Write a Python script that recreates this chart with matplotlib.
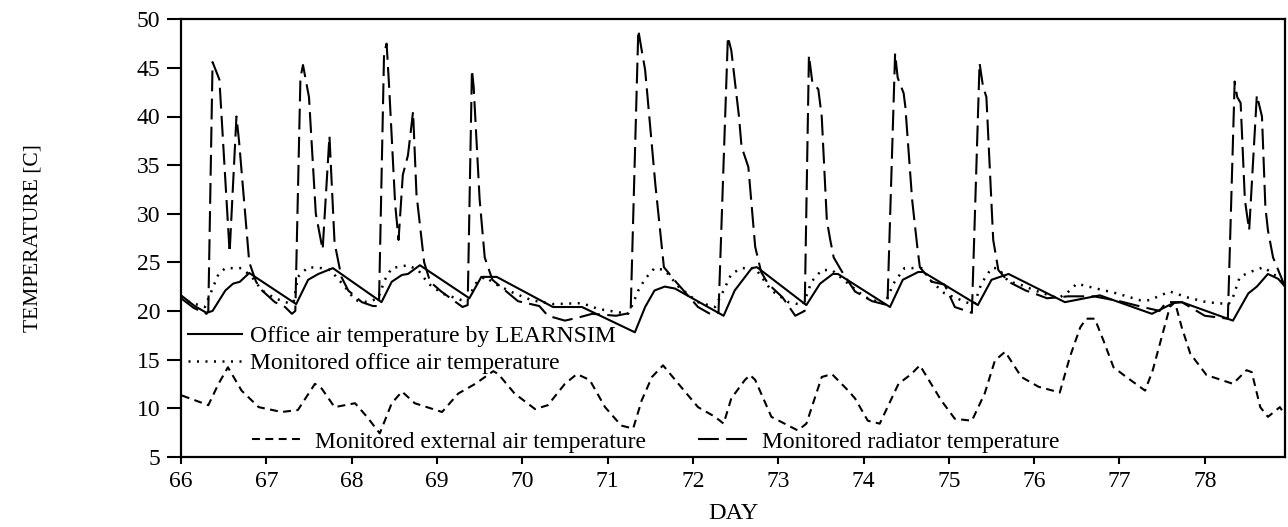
import matplotlib
matplotlib.use("Agg")
import matplotlib.pyplot as plt

plt.rcParams['font.family'] = ['Liberation Serif', 'DejaVu Serif']

# office air temperature simulated by LEARNSIM
sim_day = [66.00, 66.16, 66.30, 66.37, 66.52, 66.61, 66.69, 66.80, 67.35, 67.49,
           67.61, 67.78, 68.35, 68.47, 68.59, 68.66, 68.80, 69.38, 69.52, 69.70,
           70.36, 70.70, 71.32, 71.44, 71.55, 71.67, 71.79, 72.36, 72.49, 72.69,
           72.75, 73.33, 73.49, 73.64, 73.70, 74.31, 74.46, 74.64, 74.70, 75.34,
           75.50, 75.70, 76.36, 76.77, 77.38, 77.63, 77.73, 78.33, 78.51, 78.61,
           78.74, 78.86, 78.94]
sim_temp = [21.6, 20.5, 19.8, 20.0, 22.1, 22.8, 23.0, 23.9, 20.7, 23.2,
            23.8, 24.4, 20.9, 23.0, 23.7, 23.8, 24.7, 21.3, 23.5, 23.5,
            20.4, 20.4, 17.8, 20.4, 22.1, 22.5, 22.3, 19.5, 22.1, 24.4,
            24.5, 20.6, 22.8, 23.8, 23.8, 20.4, 23.2, 24.0, 24.0, 20.6,
            23.2, 23.8, 20.9, 21.6, 19.7, 20.8, 20.9, 19.0, 21.8, 22.5,
            23.8, 23.3, 22.5]

# monitored office air temperature
mon_day = [66.00, 66.10, 66.28, 66.36, 66.44, 66.52, 66.71, 66.83, 66.95, 67.10,
           67.26, 67.32, 67.37, 67.49, 67.65, 67.75, 67.92, 68.04, 68.19, 68.31,
           68.39, 68.47, 68.66, 68.78, 68.90, 69.06, 69.29, 69.37, 69.45, 69.56,
           69.72, 69.91, 70.11, 70.36, 70.70, 70.89, 71.24, 71.30, 71.36, 71.44,
           71.55, 71.67, 71.83, 72.06, 72.26, 72.36, 72.45, 72.57, 72.73, 72.92,
           73.12, 73.29, 73.39, 73.51, 73.63, 73.82, 74.02, 74.25, 74.35, 74.48,
           74.68, 74.80, 74.95, 75.23, 75.30, 75.38, 75.50, 75.58, 75.70, 75.81,
           76.01, 76.28, 76.38, 76.50, 76.73, 76.97, 77.24, 77.35, 77.59, 77.79,
           78.02, 78.28, 78.33, 78.41, 78.53, 78.69, 78.85, 78.94]
mon_temp = [21.5, 20.9, 20.4, 22.1, 23.8, 24.4, 24.4, 23.5, 22.1, 21.3,
            20.8, 20.9, 23.5, 24.5, 24.4, 24.2, 22.5, 21.1, 20.9, 21.3,
            23.2, 24.4, 24.7, 24.2, 22.8, 21.8, 21.1, 21.3, 22.8, 23.5,
            22.6, 21.8, 21.1, 20.7, 20.8, 20.2, 19.7, 20.8, 22.1, 23.3,
            24.4, 24.2, 22.5, 20.9, 20.4, 22.1, 23.8, 24.4, 24.4, 22.1,
            20.9, 20.6, 23.0, 24.2, 24.2, 22.8, 21.4, 20.7, 22.8, 24.4,
            24.4, 23.0, 21.8, 20.8, 20.7, 22.8, 24.4, 24.4, 23.0, 22.8,
            22.1, 21.3, 21.8, 22.8, 22.3, 21.8, 21.1, 21.1, 22.0, 21.4,
            20.9, 20.7, 21.4, 23.5, 24.0, 24.5, 23.5, 22.8]

# monitored external air temperature
ext_day = [66.01, 66.32, 66.44, 66.55, 66.71, 66.91, 67.18, 67.37, 67.57, 67.65,
           67.80, 68.04, 68.18, 68.33, 68.47, 68.59, 68.74, 69.06, 69.25, 69.45,
           69.66, 69.72, 69.91, 70.15, 70.30, 70.50, 70.64, 70.79, 70.97, 71.16,
           71.30, 71.40, 71.52, 71.65, 71.83, 72.06, 72.26, 72.36, 72.45, 72.61,
           72.67, 72.73, 72.92, 73.23, 73.33, 73.51, 73.63, 73.82, 73.90, 74.05,
           74.19, 74.41, 74.56, 74.66, 74.91, 75.07, 75.27, 75.42, 75.54, 75.66,
           75.85, 76.05, 76.30, 76.42, 76.54, 76.61, 76.71, 76.81, 76.93, 77.08,
           77.30, 77.39, 77.51, 77.59, 77.65, 77.73, 77.83, 78.02, 78.33, 78.49,
           78.55, 78.65, 78.74, 78.88, 78.94]
ext_temp = [11.3, 10.3, 12.5, 14.2, 11.8, 10.1, 9.6, 9.8, 12.5, 12.0,
            10.1, 10.5, 9.1, 7.4, 10.5, 11.7, 10.5, 9.6, 11.5, 12.5,
            13.8, 13.5, 11.5, 9.9, 10.3, 12.5, 13.5, 12.9, 10.1, 8.2,
            7.9, 10.8, 13.2, 14.4, 12.5, 10.1, 9.1, 8.4, 11.0, 12.9,
            13.4, 12.9, 9.1, 7.7, 8.4, 13.2, 13.5, 11.8, 11.0, 8.7,
            8.4, 12.5, 13.5, 14.4, 10.8, 8.9, 8.7, 11.5, 14.9, 15.8,
            13.2, 12.2, 11.6, 15.3, 18.3, 19.2, 19.2, 17.0, 14.2, 13.2,
            11.8, 13.9, 17.8, 20.4, 20.9, 18.3, 15.6, 13.4, 12.5, 13.9,
            13.7, 10.1, 9.1, 10.1, 9.3]

# monitored radiator temperature
rad_day = [66.00, 66.15, 66.30, 66.32, 66.37, 66.45, 66.57, 66.65, 66.68, 66.80,
           66.88, 66.95, 67.10, 67.22, 67.30, 67.34, 67.40, 67.43, 67.50, 67.58,
           67.66, 67.74, 67.80, 67.88, 67.96, 68.12, 68.25, 68.32, 68.38, 68.41,
           68.44, 68.51, 68.55, 68.60, 68.66, 68.72, 68.76, 68.85, 68.92, 69.05,
           69.30, 69.36, 69.41, 69.43, 69.50, 69.56, 69.65, 69.80, 69.95, 70.20,
           70.30, 70.50, 70.65, 70.82, 71.10, 71.27, 71.36, 71.40, 71.44, 71.56,
           71.66, 71.80, 72.06, 72.20, 72.30, 72.41, 72.45, 72.54, 72.57, 72.65,
           72.73, 72.80, 72.88, 73.05, 73.20, 73.31, 73.36, 73.40, 73.47, 73.51,
           73.57, 73.61, 73.65, 73.75, 73.90, 74.10, 74.28, 74.37, 74.40, 74.47,
           74.49, 74.57, 74.63, 74.66, 74.80, 74.95, 75.07, 75.27, 75.36, 75.40,
           75.44, 75.52, 75.58, 75.70, 75.90, 76.00, 76.15, 76.40, 76.70, 77.00,
           77.27, 77.47, 77.55, 77.73, 78.00, 78.27, 78.35, 78.38, 78.42, 78.47,
           78.52, 78.61, 78.67, 78.71, 78.74, 78.80, 78.88, 78.94]
rad_temp = [21.3, 20.3, 19.7, 20.0, 45.6, 43.8, 26.0, 40.0, 37.5, 25.0,
            23.0, 22.1, 20.9, 20.4, 19.7, 20.0, 44.0, 45.3, 42.0, 30.0,
            26.3, 38.0, 27.0, 23.5, 22.1, 20.9, 20.5, 20.5, 46.5, 47.5,
            43.0, 31.0, 27.3, 34.0, 36.0, 40.5, 32.0, 25.0, 23.0, 22.0,
            20.4, 20.6, 44.8, 43.1, 31.5, 25.5, 23.2, 22.1, 21.0, 20.5,
            19.5, 19.0, 19.3, 19.7, 19.5, 19.8, 48.9, 46.8, 44.8, 33.0,
            24.5, 23.0, 20.4, 19.7, 19.8, 48.2, 46.8, 40.0, 36.9, 34.8,
            26.6, 24.0, 22.8, 21.4, 19.5, 20.0, 46.3, 43.5, 42.8, 40.0,
            29.3, 27.3, 25.5, 24.0, 22.0, 21.0, 20.6, 46.5, 44.0, 42.4,
            41.0, 31.4, 26.6, 24.5, 23.0, 22.7, 20.4, 19.8, 45.5, 43.1,
            42.0, 27.3, 24.2, 23.0, 22.1, 21.8, 21.3, 21.5, 21.5, 21.0,
            20.4, 20.0, 20.9, 20.9, 19.5, 19.2, 43.6, 42.0, 41.4, 31.4,
            28.3, 42.2, 40.0, 30.7, 28.3, 25.5, 23.8, 22.5]

fig = plt.figure(figsize=(12.88, 5.27), dpi=100)
ax = fig.add_axes([181 / 1288, 70.3 / 527, 1104 / 1288, 437.4 / 527])

l_sim, = ax.plot(sim_day, sim_temp, color='black', lw=1.5, ls='-',
                 label='Office air temperature by LEARNSIM')
l_mon, = ax.plot(mon_day, mon_temp, color='black', lw=1.8, ls=(0, (0.8, 2.6)),
                 label='Monitored office air temperature')
l_ext, = ax.plot(ext_day, ext_temp, color='black', lw=1.5, ls=(0, (3.8, 2.6)),
                 label='Monitored external air temperature')
l_rad, = ax.plot(rad_day, rad_temp, color='black', lw=1.5, ls=(0, (10, 3.5)),
                 label='Monitored radiator temperature')

ax.set_xlim(66, 78.94)
ax.set_ylim(5, 50)
ax.set_xticks(range(66, 79))
ax.set_yticks(range(5, 51, 5))
ax.tick_params(axis='y', direction='out', length=10, width=1.5, pad=5, labelsize=17)
ax.tick_params(axis='x', direction='out', length=5, width=1.5, pad=5, labelsize=17)
for s in ax.spines.values():
    s.set_linewidth(1.6)

ax.set_xlabel('DAY', fontsize=17.5, labelpad=8)
ax.set_ylabel('TEMPERATURE [C]', fontsize=15.5, labelpad=68)

leg1 = ax.legend(handles=[l_sim, l_mon], loc='center left', bbox_to_anchor=(0.006, 0.244),
                 frameon=False, fontsize=17, borderpad=0, borderaxespad=0,
                 handlelength=2.3, handletextpad=0.35, labelspacing=0.25)
ax.add_artist(leg1)
ax.legend(handles=[l_ext, l_rad], loc='center left', bbox_to_anchor=(0.064, 0.034),
          frameon=False, fontsize=17, borderpad=0, borderaxespad=0, ncol=2,
          handlelength=2.2, handletextpad=0.5, columnspacing=2.2)

fig.savefig('out.png', dpi=100)
